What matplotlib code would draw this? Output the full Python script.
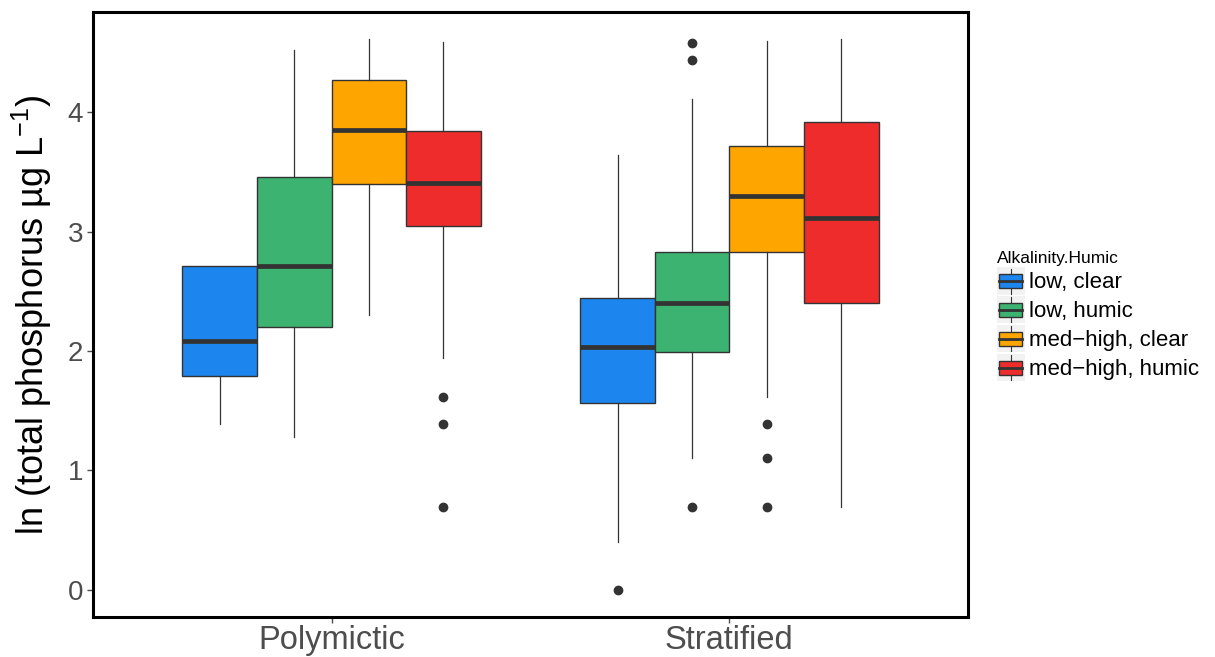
import matplotlib
matplotlib.use("Agg")
import matplotlib.pyplot as plt
from matplotlib.patches import Rectangle
from matplotlib.lines import Line2D
from matplotlib.legend_handler import HandlerBase

plt.rcParams['font.family'] = ['Liberation Sans', 'DejaVu Sans']
plt.rcParams['mathtext.fontset'] = 'custom'
plt.rcParams['mathtext.rm'] = 'Liberation Sans'
plt.rcParams['mathtext.it'] = 'Liberation Sans'

# ---- data ----
groups = ['Polymictic', 'Stratified']
series = ['low, clear', 'low, humic', 'med\u2212high, clear', 'med\u2212high, humic']
colors = ['#1C86EE', '#3CB371', '#FFA500', '#EE2C2C']

whislo = {'low, clear': [1.39, 0.40], 'low, humic': [1.28, 1.10],
          'med\u2212high, clear': [2.30, 1.61], 'med\u2212high, humic': [1.94, 0.69]}
q1 = {'low, clear': [1.79, 1.56], 'low, humic': [2.20, 1.99],
      'med\u2212high, clear': [3.40, 2.83], 'med\u2212high, humic': [3.05, 2.40]}
med = {'low, clear': [2.08, 2.03], 'low, humic': [2.71, 2.40],
       'med\u2212high, clear': [3.85, 3.30], 'med\u2212high, humic': [3.41, 3.11]}
q3 = {'low, clear': [2.71, 2.44], 'low, humic': [3.46, 2.83],
      'med\u2212high, clear': [4.27, 3.72], 'med\u2212high, humic': [3.84, 3.92]}
whishi = {'low, clear': [2.71, 3.64], 'low, humic': [4.52, 4.11],
          'med\u2212high, clear': [4.61, 4.60], 'med\u2212high, humic': [4.59, 4.61]}
fliers = {'low, clear': [[], [0.0]], 'low, humic': [[], [0.69, 4.44, 4.58]],
          'med\u2212high, clear': [[], [0.69, 1.10, 1.39]],
          'med\u2212high, humic': [[0.69, 1.39, 1.61], []]}

yticks = [0, 1, 2, 3, 4]

# ---- figure ----
fig = plt.figure(figsize=(12.15, 6.57), dpi=100)
ax = fig.add_axes([93/1215, 1-617/657, (968-93)/1215, (617-12)/657])

dodge = 0.75
n = len(series)
bw = dodge / n
edge = '#333333'
for si, s in enumerate(series):
    stats = []
    pos = []
    for gi, g in enumerate(groups):
        stats.append(dict(whislo=whislo[s][gi], q1=q1[s][gi], med=med[s][gi],
                          q3=q3[s][gi], whishi=whishi[s][gi], fliers=fliers[s][gi]))
        pos.append(gi + 1 + (si - (n - 1) / 2) * bw)
    ax.bxp(stats, positions=pos, widths=bw, patch_artist=True, showcaps=False,
           boxprops=dict(facecolor=colors[si], edgecolor=edge, linewidth=1.0),
           medianprops=dict(color=edge, linewidth=3.4, solid_capstyle='butt'),
           whiskerprops=dict(color=edge, linewidth=0.9),
           flierprops=dict(marker='o', markersize=6, markerfacecolor=edge,
                           markeredgecolor=edge, linestyle='none'),
           manage_ticks=False)

ax.set_xlim(0.4, 2.6)
ax.set_ylim(-0.23, 4.84)
ax.set_xticks([1, 2])
ax.set_xticklabels(groups)
ax.set_yticks(yticks)
ax.set_yticklabels([str(t) for t in yticks])
ax.tick_params(axis='x', labelsize=23.5, colors='#4D4D4D', length=4, width=1, pad=2)
ax.tick_params(axis='y', labelsize=20, colors='#4D4D4D', length=4, width=1, pad=3)
for lab in ax.get_xticklabels() + ax.get_yticklabels():
    lab.set_color('#4D4D4D')
for sp in ax.spines.values():
    sp.set_linewidth(2.2)
    sp.set_color('black')
ax.set_ylabel(r'ln (total phosphorus µg L$^{-1}$)', fontsize=26, color='black', labelpad=10)


class BoxHandler(HandlerBase):
    def create_artists(self, legend, orig_handle, xdescent, ydescent, width, height, fontsize, trans):
        x0, y0 = -xdescent, -ydescent
        bg = Rectangle((x0, y0), width, height, facecolor='#F2F2F2', edgecolor='none', transform=trans)
        box = Rectangle((x0 + 0.09 * width, y0 + 0.24 * height), 0.82 * width, 0.52 * height,
                        facecolor=orig_handle.get_facecolor(), edgecolor=edge, linewidth=1.0, transform=trans)
        m = Line2D([x0 + 0.09 * width, x0 + 0.91 * width], [y0 + 0.5 * height] * 2,
                   color=edge, linewidth=2, transform=trans)
        w1 = Line2D([x0 + 0.5 * width] * 2, [y0 + 0.04 * height, y0 + 0.24 * height],
                    color=edge, linewidth=0.8, transform=trans)
        w2 = Line2D([x0 + 0.5 * width] * 2, [y0 + 0.76 * height, y0 + 0.96 * height],
                    color=edge, linewidth=0.8, transform=trans)
        return [bg, box, m, w1, w2]


handles = [Rectangle((0, 0), 1, 1, facecolor=c) for c in colors]
leg = fig.legend(handles, series, handler_map={Rectangle: BoxHandler()},
                 title='Alkalinity.Humic', loc='center left',
                 bbox_to_anchor=(997/1215, 1 - 316/657), frameon=False, borderaxespad=0,
                 fontsize=16, title_fontsize=12.5, handlelength=1.25, handleheight=1.5,
                 labelspacing=0.08, handletextpad=0.2, borderpad=0, alignment='left')

fig.savefig('out.png', dpi=100, facecolor='white')
